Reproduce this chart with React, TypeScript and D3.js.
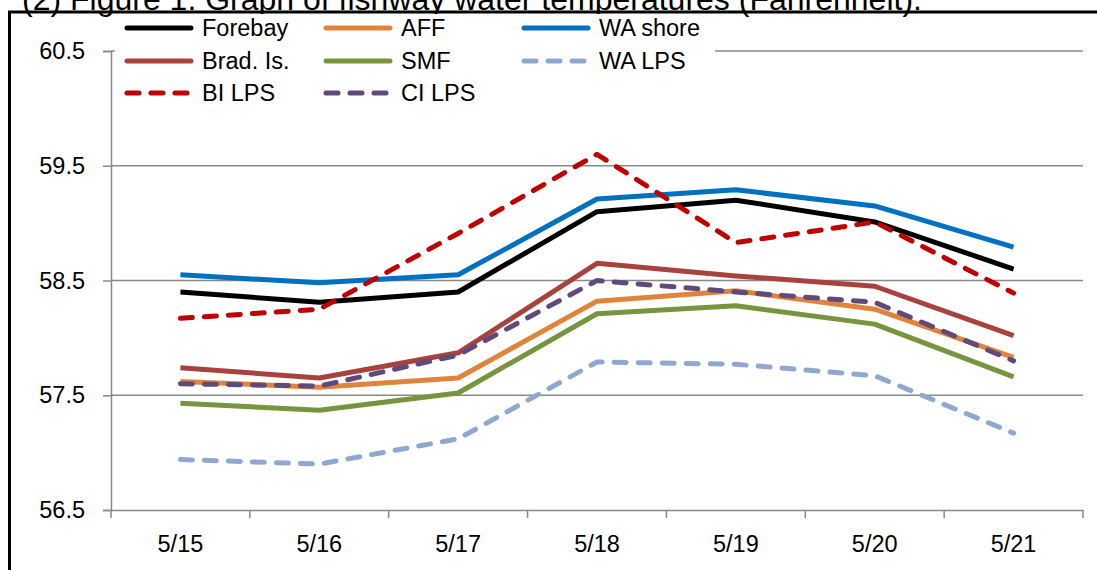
import * as d3 from "d3";
import React, { useEffect, useRef } from "react";

// fishway water temperatures, degrees F
const dates = ["5/15", "5/16", "5/17", "5/18", "5/19", "5/20", "5/21"];
const forebay = [58.4, 58.31, 58.4, 59.1, 59.2, 59.01, 58.6];
const aff = [57.62, 57.57, 57.65, 58.32, 58.41, 58.25, 57.83];
const waShore = [58.55, 58.48, 58.55, 59.21, 59.29, 59.15, 58.79];
const bradIs = [57.74, 57.65, 57.87, 58.65, 58.54, 58.45, 58.02];
const smf = [57.43, 57.37, 57.52, 58.21, 58.28, 58.12, 57.66];
const waLps = [56.94, 56.9, 57.12, 57.79, 57.77, 57.67, 57.17];
const biLps = [58.17, 58.25, 58.91, 59.6, 58.83, 59.01, 58.39];
const ciLps = [57.6, 57.58, 57.85, 58.5, 58.4, 58.31, 57.8];
const yTicks = [56.5, 57.5, 58.5, 59.5, 60.5];

const seriesNames = ["Forebay", "AFF", "WA shore", "Brad. Is.", "SMF", "WA LPS", "BI LPS", "CI LPS"];
const seriesValues = [forebay, aff, waShore, bradIs, smf, waLps, biLps, ciLps];
const colors = ["#000000", "#E0843C", "#0070C0", "#A8423F", "#77953D", "#8EA8D2", "#C00000", "#604A7B"];
const dashed = [false, false, false, false, false, true, true, true];

const title = "(2) Figure 1. Graph of fishway water temperatures (Fahrenheit).";

const width = 1097;
const height = 570;
const margin = { left: 111, right: 14, top: 51, bottom: 60 };
const font = "'Liberation Sans', Arial, sans-serif";
const dash = "12,12";

export default function App() {
  const svgRef = useRef<SVGSVGElement>(null);

  useEffect(() => {
    const svg = d3.select(svgRef.current);
    svg.selectAll("*").remove();

    const innerW = width - margin.left - margin.right;
    const innerH = height - margin.top - margin.bottom;

    const x = d3.scaleBand().domain(dates).range([0, innerW]);
    const y = d3.scaleLinear().domain([56.5, 60.5]).range([innerH, 0]);

    // title, cut off by the top of the picture
    svg.append("text")
      .attr("x", 22)
      .attr("y", 10)
      .attr("font-family", font)
      .attr("font-size", 32)
      .attr("fill", "#000")
      .text(title);

    // outer frame
    svg.append("rect")
      .attr("x", 9.5)
      .attr("y", 12)
      .attr("width", 1200)
      .attr("height", 700)
      .attr("fill", "none")
      .attr("stroke", "#000")
      .attr("stroke-width", 3);

    const g = svg.append("g")
      .attr("transform", `translate(${margin.left},${margin.top})`);

    // gridlines
    g.append("g")
      .selectAll("line")
      .data(yTicks.slice(1))
      .join("line")
      .attr("x1", 0)
      .attr("x2", innerW)
      .attr("y1", (d) => y(d))
      .attr("y2", (d) => y(d))
      .attr("stroke", "#898989")
      .attr("stroke-width", 1.5);

    const yAxis = d3.axisLeft(y).tickValues(yTicks).tickFormat(d3.format(".1f")).tickSize(8).tickPadding(18);
    const yAxisG = g.append("g").call(yAxis);
    yAxisG.select(".domain").attr("stroke", "#898989").attr("stroke-width", 1.5);
    yAxisG.selectAll(".tick line").attr("stroke", "#898989").attr("stroke-width", 1.5);
    yAxisG.selectAll(".tick text")
      .attr("font-family", font)
      .attr("font-size", 23.5)
      .attr("fill", "#000");

    const xAxis = d3.axisBottom(x).tickSize(0).tickPadding(25);
    const xAxisG = g.append("g").attr("transform", `translate(0,${innerH})`).call(xAxis);
    xAxisG.select(".domain").attr("stroke", "#898989").attr("stroke-width", 1.5);
    xAxisG.selectAll(".tick text")
      .attr("font-family", font)
      .attr("font-size", 23.5)
      .attr("fill", "#000");
    // category separators
    xAxisG.append("g")
      .selectAll("line")
      .data(d3.range(dates.length + 1))
      .join("line")
      .attr("x1", (i) => i * x.bandwidth())
      .attr("x2", (i) => i * x.bandwidth())
      .attr("y1", 0)
      .attr("y2", 8)
      .attr("stroke", "#898989")
      .attr("stroke-width", 1.5);

    const line = d3.line<number>()
      .x((_, i) => (x(dates[i]) ?? 0) + x.bandwidth() / 2)
      .y((d) => y(d));

    seriesValues.forEach((vals, i) => {
      g.append("path")
        .attr("d", line(vals))
        .attr("fill", "none")
        .attr("stroke", colors[i])
        .attr("stroke-width", 5)
        .attr("stroke-linejoin", "round")
        .attr("stroke-linecap", dashed[i] ? "round" : "butt")
        .attr("stroke-dasharray", dashed[i] ? dash : null);
    });

    // legend over the top of the plot
    const legend = svg.append("g");
    legend.append("rect")
      .attr("x", 115)
      .attr("y", 14)
      .attr("width", 600)
      .attr("height", 94)
      .attr("fill", "#fff");

    const colX = [127, 326, 524];
    const rowY = [28, 61, 93];
    seriesNames.forEach((name, i) => {
      const lx = colX[i % 3];
      const ly = rowY[Math.floor(i / 3)];
      legend.append("line")
        .attr("x1", lx)
        .attr("x2", lx + 64)
        .attr("y1", ly)
        .attr("y2", ly)
        .attr("stroke", colors[i])
        .attr("stroke-width", 5)
        .attr("stroke-linecap", "round")
        .attr("stroke-dasharray", dashed[i] ? dash : null);
      legend.append("text")
        .attr("x", lx + 75)
        .attr("y", ly + 8)
        .attr("font-family", font)
        .attr("font-size", 23.5)
        .attr("fill", "#000")
        .text(name);
    });
  }, []);

  return (
    <svg
      ref={svgRef}
      width={width}
      height={height}
      style={{ position: "absolute", left: 0, top: 0, background: "#fff" }}
    />
  );
}
